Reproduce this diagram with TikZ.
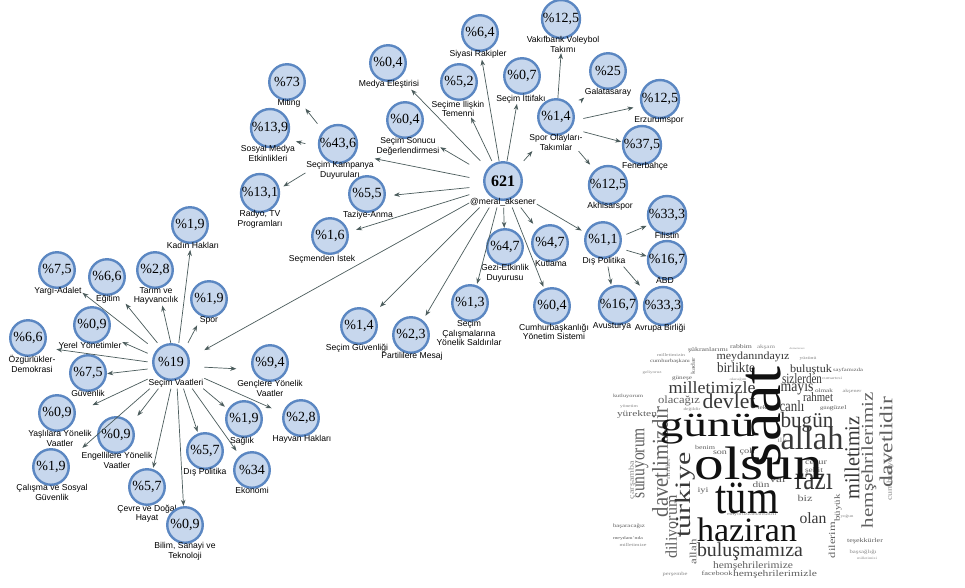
\documentclass[tikz,border=0pt]{standalone}
\usepackage{graphicx}
\usepackage{fontspec}
\setmainfont{Liberation Serif}
\newfontfamily\labfont{Liberation Sans}
\usetikzlibrary{arrows.meta,fit}
\definecolor{bubfill}{HTML}{C7D7ED}
\definecolor{bubline}{HTML}{5B87C2}
\definecolor{edgecol}{HTML}{4B5C5C}
\definecolor{wca}{HTML}{111111}
\definecolor{wcb}{HTML}{383838}
\definecolor{wcc}{HTML}{606060}
\definecolor{wcd}{HTML}{8A8A8A}
\tikzset{
  bub/.style={circle, draw=bubline, line width=2.4pt, fill=bubfill, minimum size=35.5pt, inner sep=0pt, font=\fontsize{14}{14}\selectfont},
  lab/.style={font=\labfont\fontsize{8.6}{9.2}\selectfont, align=center, inner sep=0.5pt, anchor=north},
  edge/.style={draw=edgecol, line width=0.7pt, -{Stealth[length=6pt,width=4.5pt]}},
  wcnode/.style={inner sep=0pt},
}
% name, x, y, value, label x, label
\newcommand\bb[6]{%
  \node[bub] (c#1) at (#2,#3) {#4};
  \node[lab] (l#1) at (#5,#3+17) {#6};
  \node[fit=(c#1)(l#1), inner sep=0pt] (#1) {};
}
% name, x, y, length, thickness (or !), rotation, colour, word
\newcommand\wcw[8]{\node[wcnode, rotate=#6, text=#7] (#1) at (#2,#3) {\resizebox*{#4pt}{#5}{\scalebox{1}[0.74]{#8}}};}
\begin{document}
\begin{tikzpicture}[x=1pt,y=-1pt]
\fill[white] (0,0) rectangle (965,587);
\useasboundingbox (0,0) rectangle (965,587);

% ---------- central node ----------
\node[bub, minimum size=37.5pt, font=\bfseries\fontsize{16}{16}\selectfont] (cn621) at (503,181) {621};
\node[lab] (ln621) at (503,198) {@meral\_aksener};
\node[fit=(cn621)(ln621), inner sep=0pt] (n621) {};

% ---------- upper cluster ----------
\bb{rak}{480}{33}{\%6,4}{478}{Siyasi Rakipler}
\bb{vak}{561}{19}{\%12,5}{563}{Vakıfbank Voleybol\\Takımı}
\bb{med}{388}{63}{\%0,4}{389}{Medya Eleştirisi}
\bb{tem}{459}{82}{\%5,2}{458}{Seçime İlişkin\\Temenni}
\bb{itt}{522}{76}{\%0,7}{521}{Seçim İttifakı}
\bb{mit}{287}{82}{\%73}{289}{Miting}
\bb{gs}{608}{71}{\%25}{608}{Galatasaray}
\bb{erz}{660}{99}{\%12,5}{659}{Erzurumspor}
\bb{spor}{556}{117}{\%1,4}{556}{Spor Olayları-\\Takımlar}
\bb{son}{405}{120}{\%0,4}{408}{Seçim Sonucu\\Değerlendirmesi}
\bb{sme}{270}{128}{\%13,9}{268}{Sosyal Medya\\Etkinlikleri}
\bb{kam}{338}{144}{\%43,6}{340}{Seçim Kampanya\\Duyuruları}
\bb{fb}{642}{145}{\%37,5}{645}{Fenerbahçe}
\bb{rtv}{260}{193}{\%13,1}{260}{Radyo, TV\\Programları}
\bb{taz}{367}{194}{\%5,5}{368}{Taziye-Anma}
\bb{akh}{608}{185}{\%12,5}{610}{Akhisarspor}
\bb{ist}{330}{236}{\%1,6}{322}{Seçmenden İstek}
\bb{fil}{667}{215}{\%33,3}{667}{Filistin}
\bb{dis}{603}{240}{\%1,1}{604}{Dış Politika}
\bb{abd}{667}{260}{\%16,7}{665}{ABD}
\bb{gez}{505}{247}{\%4,7}{505}{Gezi-Etkinlik\\Duyurusu}
\bb{kut}{550}{243}{\%4,7}{551}{Kutlama}
\bb{sal}{470}{303}{\%1,3}{469}{Seçim\\Çalışmalarına\\Yönelik Saldırılar}
\bb{cum}{552}{306}{\%0,4}{554}{Cumhurbaşkanlığı\\Yönetim Sistemi}
\bb{avs}{618}{305}{\%16,7}{612}{Avusturya}
\bb{ab}{663}{306}{\%33,3}{660}{Avrupa Birliği}
\bb{guv}{359}{326}{\%1,4}{357}{Seçim Güvenliği}
\bb{par}{411}{335}{\%2,3}{412}{Partililere Mesaj}

% ---------- left cluster ----------
\bb{vaat}{171}{362}{\%19}{176}{Seçim Vaatleri}
\bb{kad}{190}{225}{\%1,9}{193}{Kadın Hakları}
\bb{yar}{57}{270}{\%7,5}{58}{Yargı-Adalet}
\bb{egi}{107}{277}{\%6,6}{108}{Eğitim}
\bb{tar}{155}{270}{\%2,8}{156}{Tarım ve\\Hayvancılık}
\bb{spt}{209}{299}{\%1,9}{209}{Spor}
\bb{yer}{92}{325}{\%0,9}{90}{Yerel Yönetimler}
\bb{ozg}{28}{338}{\%6,6}{32}{Özgürlükler-\\Demokrasi}
\bb{gvn}{88}{373}{\%7,5}{88}{Güvenlik}
\bb{gen}{270}{363}{\%9,4}{270}{Gençlere Yönelik\\Vaatler}
\bb{yas}{57}{413}{\%0,9}{60}{Yaşlılara Yönelik\\Vaatler}
\bb{eng}{116}{435}{\%0,9}{117}{Engellilere Yönelik\\Vaatler}
\bb{sag}{244}{419}{\%1,9}{242}{Sağlık}
\bb{hay}{301}{418}{\%2,8}{302}{Hayvan Hakları}
\bb{cal}{51}{467}{\%1,9}{52}{Çalışma ve Sosyal\\Güvenlik}
\bb{dpl}{205}{451}{\%5,7}{205}{Dış Politika}
\bb{eko}{252}{470}{\%34}{252}{Ekonomi}
\bb{cev}{147}{487}{\%5,7}{147}{Çevre ve Doğal\\Hayat}
\bb{bil}{185}{525}{\%0,9}{185}{Bilim, Sanayi ve\\Teknoloji}

% ---------- connectors ----------
\foreach \t in {rak,tem,itt,spor,med,son,kam,taz,ist,vaat,guv,par,sal,gez,cum,kut,dis}
  \draw[edge] (n621) -- (\t);
\foreach \t in {mit,sme,rtv}
  \draw[edge] (kam) -- (\t);
\foreach \t in {vak,gs,erz,fb,akh}
  \draw[edge] (spor) -- (\t);
\foreach \t in {fil,abd,avs,ab}
  \draw[edge] (dis) -- (\t);
\foreach \t in {kad,yar,egi,tar,spt,yer,ozg,gvn,gen,yas,eng,cal,cev,bil,dpl,sag,eko,hay}
  \draw[edge] (vaat) -- (\t);

% ---------- word cloud ----------
\wcw{w72}{632}{480}{38}{!}{90}{wcd}{çarşamba}
\wcw{w73}{668}{469}{20}{!}{90}{wcd}{millet}
\wcw{w74}{890}{478}{45}{!}{90}{wcd}{cumhuriyet}
\wcw{w28}{642}{463}{70}{13pt}{90}{wcc}{sunuyorum}
\wcw{w27}{660}{462}{110}{16pt}{90}{wcc}{davetlimizdir}
\wcw{w29}{673}{527}{63}{15pt}{90}{wcc}{diliyorum}
\wcw{w75}{693}{552}{25}{!}{90}{wcc}{allah}
\wcw{w66}{838}{508}{27}{!}{90}{wcc}{büyük}
\wcw{w67}{832}{540}{36}{!}{90}{wcc}{dilerim}
\wcw{w68}{693}{366}{17}{!}{90}{wcc}{kadar}
\wcw{w30}{708}{350}{40}{!}{0}{wcc}{şükranlarımı}
\wcw{w53}{741}{347}{22}{!}{0}{wcc}{rabbim}
\wcw{w54}{766}{347}{18}{!}{0}{wcd}{akşam}
\wcw{w77}{797}{349}{15}{!}{0}{wcd}{demokrasi}
\wcw{w78}{671}{355}{28}{!}{0}{wcd}{milletimizin}
\wcw{w31}{670}{361}{40}{!}{0}{wcc}{cumhurbaşkanı}
\wcw{w55}{808}{359}{17}{!}{0}{wcd}{yüzünü}
\wcw{w19}{753}{357}{73}{10pt}{0}{wcb}{meydanındayız}
\wcw{w20}{736}{368}{38}{10pt}{0}{wcb}{birlikte}
\wcw{w21}{811}{370}{42}{10pt}{0}{wcb}{buluştuk}
\wcw{w33}{848}{370}{30}{!}{0}{wcc}{sayfamızda}
\wcw{w62}{652}{373}{19}{!}{0}{wcd}{geliyoruz}
\wcw{w32}{682}{378}{20}{!}{0}{wcc}{güneşe}
\wcw{w22}{802}{379}{40}{10pt}{0}{wcb}{sizlerden}
\wcw{w56}{832}{378}{20}{!}{0}{wcd}{cumartesi}
\wcw{w76}{738}{380}{17}{!}{0}{wcd}{olacağım}
\wcw{w23}{797}{389}{33}{11pt}{0}{wcb}{mayıs}
\wcw{w57}{824}{391}{18}{!}{0}{wcc}{olmak}
\wcw{w58}{852}{391}{19}{!}{0}{wcd}{akşener}
\wcw{w9}{712}{388}{87}{12pt}{0}{wcb}{milletimizle}
\wcw{w24}{818}{397}{30}{9pt}{0}{wcb}{rahmet}
\wcw{w34}{628}{396}{30}{!}{0}{wcc}{kutluyorum}
\wcw{w26}{679}{401}{42}{10pt}{0}{wcc}{olacağız}
\wcw{w8}{729}{401}{53}{15pt}{0}{wcb}{devlet}
\wcw{w25}{792}{406}{25}{11pt}{0}{wcb}{canlı}
\wcw{w61}{762}{408}{9}{!}{0}{wcc}{tek}
\wcw{w63}{629}{407}{18}{!}{0}{wcd}{yönetim}
\wcw{w60}{825}{408}{10}{!}{0}{wcc}{gün}
\wcw{w59}{838}{408}{17}{!}{0}{wcc}{güzel}
\wcw{w35}{637}{414}{40}{!}{0}{wcc}{yürekten}
\wcw{w64}{692}{410}{17}{!}{0}{wcd}{değildir}
\wcw{w7}{807}{422}{53}{20pt}{0}{wcb}{bugün}
\wcw{w65}{782}{440}{9}{!}{0}{wcd}{ilk}
\wcw{w42}{705}{447}{20}{!}{0}{wcc}{benim}
\wcw{w43}{720}{453}{14}{!}{0}{wcc}{son}
\wcw{w44}{747}{452}{15}{!}{0}{wcc}{çok}
\wcw{w40}{816}{463}{22}{!}{0}{wcc}{cesur}
\wcw{w41}{814}{471}{18}{!}{0}{wcc}{şehit}
\wcw{w39}{778}{480}{17}{!}{0}{wcc}{var}
\wcw{w38}{761}{485}{17}{!}{0}{wcc}{dün}
\wcw{w36}{703}{491}{11}{!}{0}{wcc}{iyi}
\wcw{w37}{805}{498}{15}{!}{0}{wcc}{biz}
\wcw{w69}{745}{514}{36}{!}{0}{wcd}{ediyoruzzaman}
\wcw{w70}{770}{514}{14}{!}{0}{wcd}{sabır}
\wcw{w71}{847}{517}{13}{!}{0}{wcd}{yoğun}
\wcw{w45}{629}{526}{32}{!}{0}{wcc}{başaracağız}
\wcw{w46}{628}{538}{30}{!}{0}{wcc}{meydanı'nda}
\wcw{w47}{633}{545}{27}{!}{0}{wcd}{milletimize}
\wcw{w48}{865}{541}{36}{!}{0}{wcc}{teşekkürler}
\wcw{w49}{863}{552}{27}{!}{0}{wcd}{başsağlığı}
\wcw{w50}{867}{558}{20}{!}{0}{wcd}{milletimizi}
\wcw{w51}{675}{574}{25}{!}{0}{wcd}{perşembe}
\wcw{w52}{717}{573}{31}{!}{0}{wcc}{facebook}
\wcw{w16}{852}{458}{83}{15pt}{90}{wcb}{milletimiz}
\wcw{w17}{869}{460}{136}{15pt}{90}{wcc}{hemşehrilerimiz}
\wcw{w18}{886}{442}{90}{13pt}{90}{wcc}{davetlidir}
\wcw{w10}{685}{495}{85}{20pt}{90}{wcb}{türkiye}
\wcw{w14}{814}{482}{38}{16pt}{0}{wcb}{razı}
\wcw{w15}{813}{518}{27}{11pt}{0}{wcb}{olan}
\wcw{w11}{750}{552}{106}{18pt}{0}{wcb}{buluşmamıza}
\wcw{w12}{753}{566}{80}{9pt}{0}{wcc}{hemşehrilerimize}
\wcw{w13}{775}{574}{84}{8pt}{0}{wcc}{hemşehrilerimizle}
\wcw{w6}{812}{438}{63}{23pt}{0}{wcb}{allah}
\wcw{w1}{707}{429}{95}{30pt}{0}{wca}{günü}
\wcw{w2}{764}{417}{100}{35pt}{90}{wca}{saat}
\wcw{w3}{759}{463}{128}{33pt}{0}{wca}{olsun}
\wcw{w4}{747}{498}{63}{31pt}{0}{wca}{tüm}
\wcw{w5}{747}{530}{100}{24pt}{0}{wca}{haziran}
\end{tikzpicture}
\end{document}
